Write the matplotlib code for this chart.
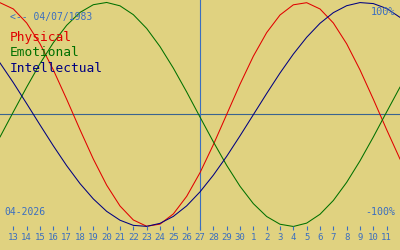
"""
Biorhythm chart, April - May 2026
"""
import matplotlib
matplotlib.use('Agg')
import matplotlib.pyplot as plt

# days shown, 12 Apr .. 12 May 2026 (the outer two are only half visible)
days = [12, 13, 14, 15, 16, 17, 18, 19, 20, 21, 22, 23, 24, 25, 26, 27, 28, 29,
        30, 1, 2, 3, 4, 5, 6, 7, 8, 9, 10, 11, 12]

# percent values, one per day
physical = [99.8, 94.2, 81.7, 63.1, 39.8, 13.6, -13.6, -39.8, -63.1, -81.7,
            -94.2, -99.8, -97.9, -88.8, -73.1, -52.0, -27.0, 0.0, 27.0, 52.0,
            73.1, 88.8, 97.9, 99.8, 94.2, 81.7, 63.1, 39.8, 13.6, -13.6, -39.8]
emotional = [-20.1, 2.3, 24.4, 45.4, 64.1, 79.6, 91.1, 98.0, 100.0, 97.0,
             89.1, 76.8, 60.6, 41.4, 20.1, -2.3, -24.4, -45.4, -64.1, -79.6,
             -91.1, -98.0, -100.0, -97.0, -89.1, -76.8, -60.6, -41.4, -20.1,
             2.3, 24.4]
intellectual = [46.0, 28.4, 9.7, -9.3, -28.0, -45.7, -61.7, -75.4, -86.5, -94.4,
                -99.0, -99.9, -97.2, -91.0, -81.6, -69.1, -54.2, -37.4, -19.1,
                -0.2, 18.7, 37.0, 53.9, 68.9, 81.4, 90.9, 97.1, 99.9, 99.0,
                94.6, 86.7]

today = 27
birth = '04/07/1983'
month = '04-2026'

BG = '#e0d280'
BLUE = '#3a6ec0'

fig = plt.figure(figsize=(4, 2.5), dpi=100, facecolor=BG)
ax = fig.add_axes([0, 0, 1, 1], facecolor=BG)
ax.set_xlim(0, len(days) - 1)
ax.set_ylim(-121, 102.2)
ax.axis('off')

x = range(len(days))
ax.axhline(0, color='#3a6490', lw=0.8)
ax.vlines(days.index(today, 1), -103, 110, color=BLUE, lw=0.8)

ax.plot(x, physical, color='#e00000', lw=0.75)
ax.plot(x, emotional, color='#007000', lw=0.75)
ax.plot(x, intellectual, color='#000080', lw=0.75)

# day ticks along the bottom
for i in range(1, len(days) - 1):
    ax.vlines(i, -99.5, -103.5, color=BLUE, lw=0.8)
    ax.text(i, -110, str(days[i]), color=BLUE, fontsize=6.5,
            family='DejaVu Sans Mono', ha='center', va='center')

mono = dict(family='DejaVu Sans Mono', transform=ax.transAxes, va='center')
ax.text(0.025, 0.932, '<-- ' + birth, color=BLUE, fontsize=7, **mono)
ax.text(0.025, 0.852, 'Physical', color='#e00000', fontsize=9.3, **mono)
ax.text(0.025, 0.790, 'Emotional', color='#007000', fontsize=9.3, **mono)
ax.text(0.025, 0.727, 'Intellectual', color='#000080', fontsize=9.3, **mono)
ax.text(0.988, 0.952, '100%', color=BLUE, fontsize=7.4, ha='right', **mono)
ax.text(0.988, 0.152, '-100%', color=BLUE, fontsize=7.2, ha='right', **mono)
ax.text(0.01, 0.152, month, color=BLUE, fontsize=7, **mono)

fig.savefig('out.png', dpi=100, facecolor=BG)
